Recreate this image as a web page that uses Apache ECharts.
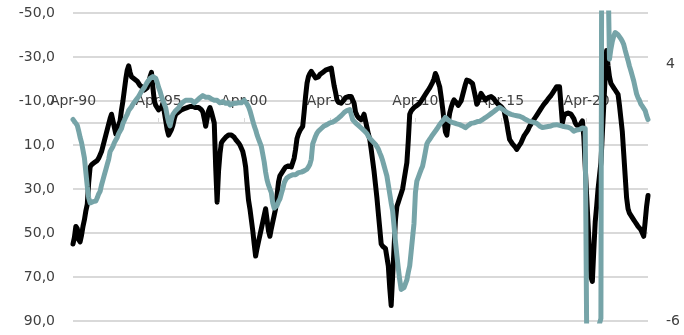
<!DOCTYPE html>
<html>
<head>
<meta charset="utf-8">
<script src="https://cdn.jsdelivr.net/npm/echarts@6/dist/echarts.min.js"></script>
<style>
  html, body { margin: 0; padding: 0; background: #fff; }
  #chart { width: 684px; height: 335px; }
</style>
</head>
<body>
<div id="chart"></div>
<script>
// Monthly observations, April 1990 to November 2023 (one row per 12 months)
const startYear = 1990;
const startMonth = 3; // April (0-based)
const monthNames = ['Jan','Feb','Mar','Apr','May','Jun','Jul','Aug','Sep','Oct','Nov','Dec'];

// Left axis series (inverted scale)
const sentiment = [
  55, 52, 47, 48, 53, 54, 51, 47, 44, 40, 37, 27,
  20, 19, 18.5, 18, 17.5, 17, 16, 15.5, 13, 10.5, 8, 5.5,
  3, 0.5, -2, -4, -1, 2, 5, 3, 1, -1, -6, -10,
  -15, -20, -24, -26, -23, -21, -20.5, -20, -19.5, -19, -18, -17,
  -16.5, -16, -15, -14.5, -16, -18.5, -21, -23, -16, -10, -8, -7,
  -6, -5.5, -7, -9, -5, -1, 3, 5.5, 5.5, 3, 1, -2,
  -4, -4.5, -5, -5.5, -6, -6.5, -6.5, -7, -7, -7.5, -7.5, -7.5,
  -7.5, -7.5, -7, -7, -7, -6.5, -6, -5, -2, 1.5, -2, -5.5,
  -7, -5, -2.5, 0, 20, 36, 22, 14, 9, 8, 7.5, 6.5,
  6, 5.5, 5, 5.5, 6, 6.5, 7.5, 8, 9, 10, 10.5, 13,
  16, 20, 28, 35, 39, 44, 49, 55, 60.5, 57, 54, 51,
  48, 45, 42, 39, 44, 49, 51.5, 48, 45, 42, 39, 33,
  27, 24, 23, 22, 21, 20, 19.5, 19.5, 20, 20, 20, 16,
  12, 7, 5, 3.5, 2.5, 1.5, -5, -12, -18, -21, -22.5, -23.5,
  -22.5, -21.5, -20.5, -20, -21, -22, -22.5, -23, -23.5, -24, -24.5, -24.5,
  -25, -25, -21, -17, -14, -10.5, -9.5, -9.5, -9, -9.5, -10.5, -11.5,
  -12, -12, -12, -12, -12, -9, -5, -3.5, -2.5, -2, -1.5, -2.5,
  -4, -1, 2, 5, 7.5, 12, 17, 22, 28, 34, 41, 48,
  55, 56, 56.5, 57, 57.5, 65, 75, 83, 70, 57, 44, 38,
  36, 34, 32, 30, 26, 22, 18, 8, -4, -5.5, -6, -7,
  -7.5, -8, -8.5, -9, -10, -11, -12, -13, -14, -15, -16, -16.5,
  -18.5, -20, -22.5, -21, -18.5, -16.5, -12, -7, -1.5, 4, 5.5, 0,
  -4.5, -7, -9, -10.5, -10, -9, -8, -7.5, -10, -12.5, -15, -17.5,
  -19.5, -20, -19, -18.5, -18, -15, -12, -8.5, -9, -11.5, -13.5, -12.5,
  -11.5, -10.5, -11, -11.5, -12, -12, -12, -11, -10, -9.5, -8.5, -8,
  -7.5, -7, -6, -3, 0, 4, 7.5, 8.5, 9.5, 10, 11, 12,
  11, 10, 9, 7.5, 6, 5, 4, 3, 1.5, 0.5, -0.5, -1.5,
  -2.5, -3.5, -4.5, -5.5, -6.5, -7.5, -8.5, -9, -10, -11, -11.5, -12.5,
  -13.5, -14.5, -15.5, -16.5, -16.5, -16.5, -16.7, 0, -3, -4, -4.5, -4.5,
  -4, -4, -4, -2, 0, 1, 1.5, 1.5, 0, -1, 6, 20,
  33, 46, 59, 70, 72, 58, 45, 38, 30, 24, 18, 5,
  -8, -21, -33, -26, -21, -18, -17, -16, -15, -14.5, -13, -8,
  -2, 4, 14, 24, 34, 39, 41, 42, 43, 44, 45, 46,
  47, 47.5, 48.5, 49, 51.5, 45, 38, 33
];

// Right axis series (growth rate)
const growth = [
  1.85, 1.8, 1.7, 1.62, 1.4, 1.15, 0.95, 0.65, 0.35, -0.2, -0.75, -1.2,
  -1.4, -1.38, -1.35, -1.4, -1.33, -1.2, -1.05, -0.95, -0.7, -0.5, -0.3, -0.1,
  0.1, 0.3, 0.6, 0.7, 0.8, 0.95, 1.05, 1.15, 1.3, 1.4, 1.5, 1.7,
  1.82, 1.95, 2.05, 2.2, 2.25, 2.35, 2.45, 2.5, 2.6, 2.65, 2.75, 2.85,
  2.95, 3.0, 3.1, 3.2, 3.3, 3.35, 3.45, 3.5, 3.52, 3.55, 3.45, 3.3,
  3.1, 2.95, 2.75, 2.6, 2.45, 2.3, 2.0, 1.75, 1.6, 1.85, 2.05, 2.1,
  2.2, 2.25, 2.3, 2.4, 2.45, 2.52, 2.5, 2.6, 2.62, 2.6, 2.65, 2.6,
  2.55, 2.5, 2.5, 2.6, 2.65, 2.7, 2.72, 2.78, 2.75, 2.72, 2.78, 2.72,
  2.7, 2.65, 2.62, 2.6, 2.55, 2.6, 2.55, 2.5, 2.56, 2.55, 2.5, 2.48,
  2.45, 2.5, 2.42, 2.43, 2.47, 2.5, 2.48, 2.52, 2.5, 2.55, 2.5, 2.56,
  2.6, 2.55, 2.45, 2.35, 2.2, 2.0, 1.8, 1.6, 1.45, 1.25, 1.1, 0.95,
  0.8, 0.5, 0.2, -0.2, -0.5, -0.7, -0.85, -1.0, -1.4, -1.6, -1.65, -1.5,
  -1.35, -1.25, -1.05, -0.85, -0.62, -0.5, -0.42, -0.4, -0.35, -0.32, -0.3, -0.28,
  -0.3, -0.25, -0.22, -0.24, -0.2, -0.18, -0.15, -0.12, -0.08, 0.0, 0.1, 0.3,
  0.9, 1.05, 1.2, 1.32, 1.4, 1.45, 1.5, 1.55, 1.6, 1.62, 1.65, 1.7,
  1.72, 1.73, 1.75, 1.8, 1.82, 1.85, 1.9, 1.95, 2.0, 2.05, 2.12, 2.15,
  2.2, 2.22, 2.24, 2.05, 1.85, 1.8, 1.72, 1.68, 1.62, 1.59, 1.52, 1.45,
  1.42, 1.36, 1.3, 1.2, 1.12, 1.05, 1.0, 0.95, 0.88, 0.82, 0.7, 0.55,
  0.42, 0.25, 0.05, -0.15, -0.35, -0.7, -1.05, -1.4, -1.7, -2.3, -2.9, -3.45,
  -3.95, -4.4, -4.77, -4.75, -4.7, -4.65, -4.4, -4.1, -3.85, -3.3, -2.75, -2.2,
  -1.0, -0.55, -0.4, -0.25, -0.1, 0.03, 0.3, 0.6, 0.9, 1.0, 1.08, 1.15,
  1.25, 1.32, 1.4, 1.48, 1.55, 1.65, 1.73, 1.8, 1.85, 1.93, 1.88, 1.83,
  1.78, 1.75, 1.73, 1.72, 1.7, 1.68, 1.66, 1.65, 1.62, 1.6, 1.56, 1.53,
  1.56, 1.62, 1.66, 1.7, 1.73, 1.72, 1.74, 1.76, 1.77, 1.78, 1.82, 1.85,
  1.88, 1.92, 1.95, 2.0, 2.04, 2.08, 2.12, 2.16, 2.2, 2.25, 2.3, 2.32,
  2.28, 2.25, 2.2, 2.17, 2.12, 2.1, 2.07, 2.05, 2.04, 2.02, 2.0, 2.0,
  1.98, 1.98, 1.95, 1.93, 1.9, 1.86, 1.83, 1.8, 1.78, 1.77, 1.75, 1.74,
  1.73, 1.7, 1.65, 1.6, 1.56, 1.54, 1.55, 1.56, 1.58, 1.58, 1.59, 1.6,
  1.62, 1.64, 1.66, 1.65, 1.63, 1.62, 1.6, 1.59, 1.58, 1.57, 1.56, 1.55,
  1.54, 1.5, 1.45, 1.39, 1.42, 1.44, 1.46, 1.46, 1.5, 1.52, 1.54, 1.5,
  1.46, -14, -17, -13, -10, -9, -9, -7.5, -6.6, -6.1, -5.9, 20,
  24, 20, 14, 7.5, 4.2, 4.6, 4.9, 5.1, 5.24, 5.2, 5.15, 5.1,
  5.0, 4.9, 4.77, 4.55, 4.35, 4.15, 3.93, 3.75, 3.55, 3.35, 3.1, 2.85,
  2.7, 2.6, 2.45, 2.37, 2.3, 2.2, 2.0, 1.85
];

// Axis scales
const leftTicks = { min: -50, max: 90, step: 20 };
const rightTicks = { min: -6, max: 6, step: 10 };
const labelEvery = 60; // one date label every five years

// Month labels such as "Apr-90"
const months = sentiment.map(function (_, i) {
  const m = (startMonth + i) % 12;
  const y = startYear + Math.floor((startMonth + i) / 12);
  return monthNames[m] + '-' + String(y % 100).padStart(2, '0');
});

const font = 'DejaVu Sans';
const textColor = '#404040';
const gridColor = '#d9d9d9';

// Plot area
const gridTop = 13;
const gridBottom = 14;
const gridHeight = 335 - gridTop - gridBottom;
// The date axis crosses the left scale at zero
const zeroOffset = -gridHeight * (0 - leftTicks.min) / (leftTicks.max - leftTicks.min);

const chart = echarts.init(document.getElementById('chart'), null, { renderer: 'canvas' });
chart.setOption({
  animation: false,
  backgroundColor: '#fff',
  grid: { left: 73, right: 36, top: gridTop, bottom: gridBottom, outerBoundsMode: 'none' },
  xAxis: {
    type: 'category',
    data: months,
    position: 'top',
    offset: zeroOffset,
    boundaryGap: false,
    axisLine: { show: true, onZero: false, lineStyle: { color: gridColor, width: 2 } },
    axisTick: { show: true, interval: labelEvery - 1, length: 5, lineStyle: { color: gridColor, width: 1 } },
    axisLabel: {
      interval: labelEvery - 1,
      margin: 15,
      fontFamily: font,
      fontSize: 14,
      color: textColor
    },
    splitLine: { show: false }
  },
  yAxis: [
    {
      type: 'value',
      position: 'left',
      inverse: true,
      min: leftTicks.min,
      max: leftTicks.max,
      interval: leftTicks.step,
      axisLine: { show: false },
      axisTick: { show: false },
      axisLabel: {
        margin: 18,
        fontFamily: font,
        fontSize: 14,
        color: textColor,
        formatter: function (v) { return v.toFixed(1).replace('.', ','); }
      },
      splitLine: { show: true, lineStyle: { color: gridColor, width: 2 } }
    },
    {
      type: 'value',
      position: 'right',
      min: rightTicks.min,
      max: rightTicks.max,
      interval: rightTicks.step,
      axisLine: { show: false },
      axisTick: { show: false },
      axisLabel: {
        margin: 18,
        showMaxLabel: false,
        fontFamily: font,
        fontSize: 14,
        color: textColor,
        formatter: function (v) { return String(v); }
      },
      splitLine: { show: false }
    }
  ],
  series: [
    {
      type: 'line',
      yAxisIndex: 0,
      data: sentiment,
      showSymbol: false,
      symbol: 'none',
      clip: true,
      lineStyle: { color: '#000000', width: 5, join: 'round', cap: 'round' },
      z: 2
    },
    {
      type: 'line',
      yAxisIndex: 1,
      data: growth,
      showSymbol: false,
      symbol: 'none',
      clip: true,
      lineStyle: { color: '#76a4a8', width: 5, join: 'round', cap: 'round' },
      z: 3
    }
  ]
});
</script>
</body>
</html>
